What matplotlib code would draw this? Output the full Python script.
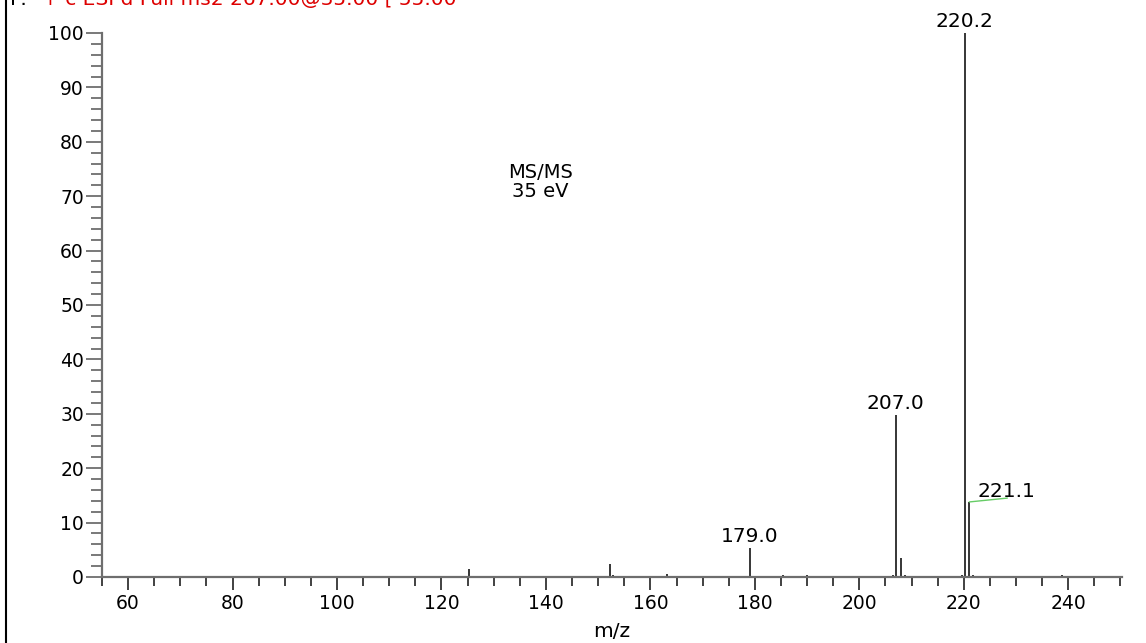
import matplotlib
matplotlib.use("Agg")
import matplotlib.pyplot as plt
from matplotlib.ticker import MultipleLocator
from matplotlib.lines import Line2D

plt.rcParams['font.family'] = ['DejaVu Sans']

# Peak data (m/z, relative abundance)
mz = [125.2, 125.8, 152.2, 152.9, 153.5, 163.2, 179.1, 180.2, 185.3, 186.0,
      187.5, 189.0, 190.0, 191.2, 192.3, 193.5, 206.4, 207.0, 208.0, 208.7,
      219.6, 220.2, 221.1, 221.8, 238.9, 239.4]
intensity = [1.5, 0.2, 2.4, 0.3, 0.2, 0.5, 5.3, 0.2, 0.3, 0.2,
             0.2, 0.2, 0.3, 0.2, 0.2, 0.2, 0.3, 29.8, 3.5, 0.3,
             0.3, 100.0, 13.8, 0.3, 0.4, 0.2]

labels_mz = [179.0, 207.0, 220.2]
labels_int = [5.3, 29.8, 100.0]
label_221_mz = 221.1
label_221_int = 13.8

title_black = "F:"
title_red = "+ c ESI d Full ms2 267.00@35.00 [ 55.00"

fig = plt.figure(figsize=(11.46, 6.43), dpi=100)
ax = fig.add_axes([102/1146, 1-577/643, (1122-102)/1146, (577-33)/643])

ax.vlines(mz, 0, intensity, colors='black', linewidth=1.1)

ax.set_xlim(55, 250.3)
ax.set_ylim(0, 100)

for s in ['top', 'right']:
    ax.spines[s].set_visible(False)
for s in ['left', 'bottom']:
    ax.spines[s].set_color('#6e6e6e')
    ax.spines[s].set_linewidth(1.6)

ax.xaxis.set_major_locator(MultipleLocator(20))
ax.xaxis.set_minor_locator(MultipleLocator(5))
ax.yaxis.set_major_locator(MultipleLocator(10))
ax.yaxis.set_minor_locator(MultipleLocator(2))

ax.tick_params(axis='x', which='major', length=9.5, width=1.3, color='#333333', labelsize=13.5, pad=3)
ax.tick_params(axis='x', which='minor', length=6.5, width=1.3, color='#333333')
ax.tick_params(axis='y', which='major', length=11.5, width=1.3, color='#6e6e6e', labelsize=13.5, pad=1.5)
ax.tick_params(axis='y', which='minor', length=8, width=1.3, color='#6e6e6e')

ax.set_xlabel('m/z', fontsize=14.5, labelpad=6)

for x, y in zip(labels_mz, labels_int):
    ax.text(x, y + 1.1, f"{x:.1f}", ha='center', va='baseline', fontsize=14.5)

# 221.1 label with green leader line
ax.plot([label_221_mz, 228.3], [label_221_int, 14.5], color='#66cc66', linewidth=1.0)
ax.text(222.6, 14.7, f"{label_221_mz:.1f}", ha='left', va='baseline', fontsize=14.5)

ax.text(138.9, 72.6, "MS/MS\n35 eV", ha='center', va='center', fontsize=14, linespacing=0.95)

# clipped header (cut off at the top edge, as in the reference)
fig.text(10/1146, 1 - 5/643, title_black, color='black', fontsize=14.5, ha='left', va='baseline')
fig.text(42/1146, 1 - 5/643, title_red, color='#dd0000', fontsize=14.5, ha='left', va='baseline')

# left frame line
fig.add_artist(Line2D([5.5/1146, 5.5/1146], [0, 1], transform=fig.transFigure, color='black', linewidth=1.5))

fig.savefig('out.png', dpi=100)
